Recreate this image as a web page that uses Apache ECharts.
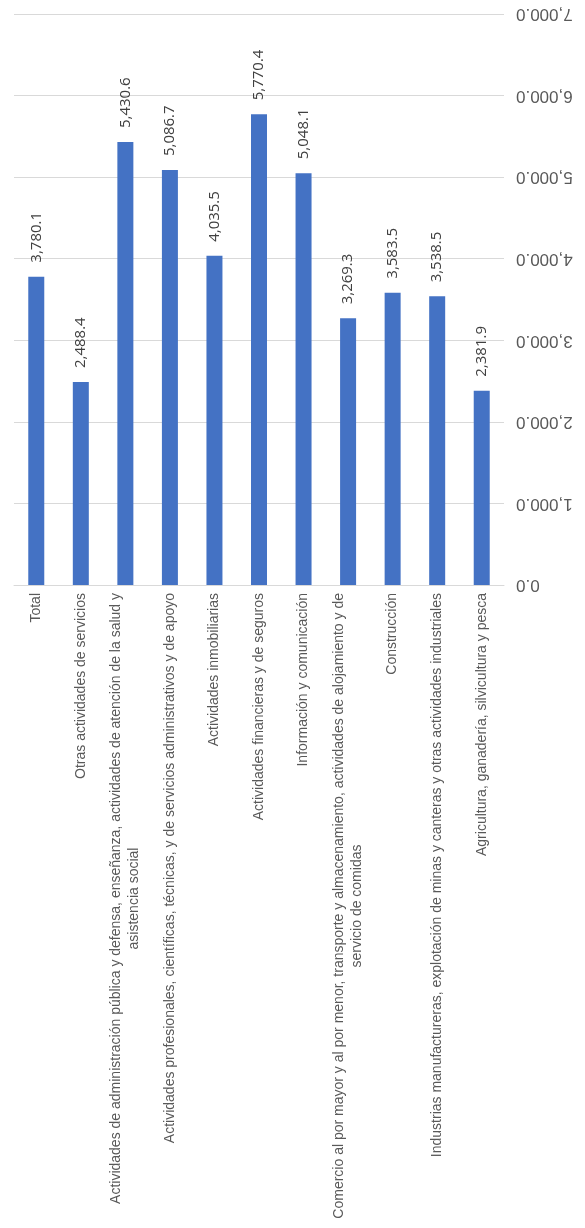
<!DOCTYPE html>
<html>
<head>
<meta charset="utf-8">
<script src="https://cdn.jsdelivr.net/npm/echarts@6/dist/echarts.min.js"></script>
<style>
  html, body { margin: 0; padding: 0; background: #fff; }
  #main { width: 585px; height: 1228px; }
</style>
</head>
<body>
<div id="main"></div>
<script>
// categorías (eje X)
var categories = [
  'Total',
  'Otras actividades de servicios',
  'Actividades de administración pública y defensa, enseñanza, actividades de atención de la salud y\nasistencia social',
  'Actividades profesionales, científicas, técnicas, y de servicios administrativos y de apoyo',
  'Actividades inmobiliarias',
  'Actividades financieras y de seguros',
  'Información y comunicación',
  'Comercio al por mayor y al por menor, transporte y almacenamiento, actividades de alojamiento y de\nservicio de comidas',
  'Construcción',
  'Industrias manufactureras, explotación de minas y canteras y otras actividades industriales',
  'Agricultura, ganadería, silvicultura y pesca'
];
// valores de las barras
var values = [3780.1, 2488.4, 5430.6, 5086.7, 4035.5, 5770.4, 5048.1, 3269.3, 3583.5, 3538.5, 2381.9];
// eje de valores
var axisMin = 0;
var axisMax = 7000;
var axisStep = 1000;

var catFont = '14px "Liberation Sans"';

//formato con separador de miles y un decimal
function formatNum(x) {
  var s = Number(x).toFixed(1);
  var parts = s.split('.');
  parts[0] = parts[0].replace(/\B(?=(\d{3})+(?!\d))/g, ',');
  return parts.join('.');
}

//ancho de texto para centrar la segunda línea
var ctx = document.createElement('canvas').getContext('2d');
ctx.font = catFont;
var rich = {
  a: { fontSize: 14, fontFamily: 'Liberation Sans', color: '#595959', lineHeight: 18 }
};
for (var i = 0; i < categories.length; i++) {
  var lines = categories[i].split('\n');
  if (lines.length > 1) {
    rich['c' + i] = {
      fontSize: 14, fontFamily: 'Liberation Sans', color: '#595959', lineHeight: 18,
      width: Math.ceil(ctx.measureText(lines[0]).width), align: 'center'
    };
  }
}

var myChart = echarts.init(document.getElementById('main'));
var option = {
  animation: false,
  grid: { left: 14, right: 81, top: 14, bottom: 643, containLabel: false },
  xAxis: {
    type: 'category',
    data: categories,
    axisLine: { show: true, lineStyle: { color: '#d9d9d9', width: 1 } },
    axisTick: { show: false },
    axisLabel: {
      interval: 0,
      rotate: 90,
      margin: 8,
      fontSize: 14,
      fontFamily: 'Liberation Sans',
      color: '#595959',
      lineHeight: 18,
      rich: rich,
      formatter: function (value, idx) {
        var lines = value.split('\n');
        if (lines.length > 1) {
          return '{a|' + lines[0] + '}\n{c' + idx + '|' + lines[1] + '}';
        }
        return '{a|' + value + '}';
      }
    }
  },
  yAxis: {
    type: 'value',
    position: 'right',
    min: axisMin,
    max: axisMax,
    interval: axisStep,
    axisLine: { show: false },
    axisTick: { show: false },
    splitLine: { lineStyle: { color: '#d9d9d9', width: 1 } },
    axisLabel: {
      rotate: 180,
      margin: 12,
      fontSize: 17,
      fontFamily: 'Liberation Sans',
      color: '#595959',
      formatter: function (v) { return formatNum(v); }
    }
  },
  series: [{
    type: 'bar',
    data: values,
    barWidth: 16,
    itemStyle: { color: '#4472c4' },
    label: {
      show: true,
      position: 'top',
      rotate: 90,
      align: 'left',
      verticalAlign: 'middle',
      distance: 14,
      fontSize: 15,
      fontFamily: 'Open Sans',
      color: '#404040',
      formatter: function (p) { return formatNum(p.value); }
    }
  }]
};
myChart.setOption(option);
</script>
</body>
</html>
